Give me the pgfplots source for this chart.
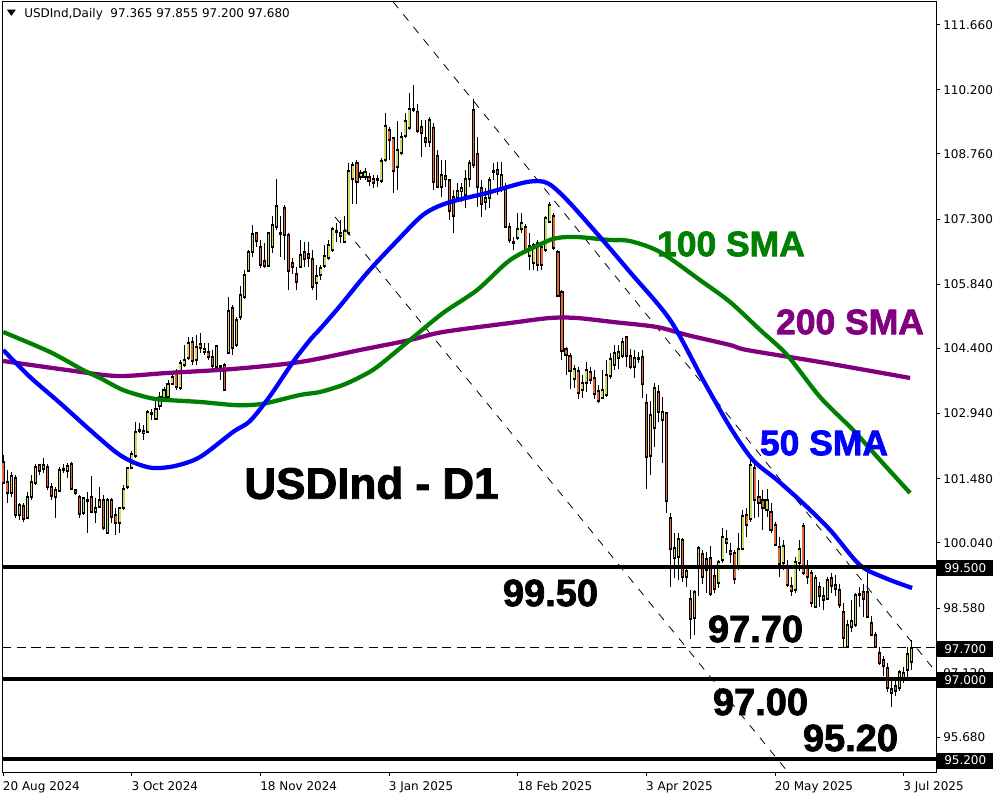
\documentclass[border=0pt]{standalone}
\usepackage{fontspec}
\setmainfont{DejaVu Sans}
\newfontfamily\heavy[FakeBold=2]{Liberation Sans}
\usepackage{graphicx}
\usepackage{pgfplots}
\usepackage{pgfplotstable}
\pgfplotsset{compat=1.18}
\definecolor{upc}{RGB}{200,220,100}
\definecolor{dnc}{RGB}{224,104,56}
\definecolor{smablue}{RGB}{0,0,255}
\definecolor{smagreen}{RGB}{0,128,0}
\definecolor{smapurple}{RGB}{128,0,128}

\pgfplotstableread{
i o h l c
0 101.86 102.01 101.35 101.38
1 101.41 101.68 100.93 101.17
2 101.15 101.64 101.08 101.53
3 101.49 101.56 100.59 100.67
4 100.67 100.93 100.55 100.89
5 100.87 100.93 100.52 100.57
6 100.61 101.19 100.59 101.08
7 101.06 101.56 101.00 101.41
8 101.39 101.82 101.34 101.75
9 101.79 101.82 101.56 101.66
10 101.69 101.94 101.60 101.79
11 101.74 101.82 101.23 101.30
12 101.29 101.38 101.00 101.09
13 101.08 101.30 100.59 101.23
14 101.21 101.75 101.19 101.68
15 101.69 101.82 101.60 101.68
16 101.66 101.84 101.49 101.77
17 101.82 101.86 101.23 101.26
18 101.23 101.26 101.11 101.17
19 101.06 101.11 100.59 100.70
20 100.72 101.08 100.67 101.04
21 101.00 101.19 100.26 100.97
22 101.08 101.53 100.70 100.73
23 100.74 101.04 100.48 100.82
24 100.85 101.30 100.82 101.00
25 101.00 101.11 100.33 100.37
26 100.26 101.04 100.26 101.00
27 101.00 101.04 100.48 100.63
28 100.67 100.82 100.22 100.49
29 100.49 100.85 100.26 100.82
30 100.82 101.34 100.78 101.26
31 101.30 101.75 101.26 101.71
32 101.71 102.09 101.71 102.03
33 101.99 102.76 101.94 102.53
34 102.58 102.72 102.50 102.56
35 102.55 102.68 102.35 102.50
36 102.53 103.02 102.50 102.97
37 102.96 103.04 102.80 102.93
38 102.81 103.24 102.80 103.04
39 103.10 103.42 103.02 103.32
40 103.30 103.54 103.24 103.47
41 103.32 103.69 103.28 103.60
42 103.60 103.88 103.58 103.77
43 103.84 103.95 103.47 103.54
44 103.51 104.14 103.47 104.08
45 104.03 104.48 103.99 104.14
46 104.18 104.66 104.14 104.52
47 104.54 104.66 104.03 104.12
48 104.14 104.70 104.03 104.44
49 104.49 104.74 104.29 104.40
50 104.33 104.52 104.25 104.40
51 104.33 104.52 104.14 104.22
52 104.22 104.37 103.92 104.01
53 103.99 104.48 103.95 104.46
54 104.01 104.03 103.69 103.98
55 104.03 104.07 103.47 103.48
56 104.31 105.56 104.29 105.24
57 105.30 105.37 104.25 104.40
58 104.48 105.11 104.44 105.04
59 105.10 105.79 105.04 105.60
60 105.56 106.16 105.52 106.05
61 106.14 106.61 106.12 106.57
62 106.57 107.17 106.46 106.97
63 106.98 107.02 106.68 106.82
64 106.68 106.83 106.20 106.27
65 106.35 106.76 106.20 106.26
66 106.25 107.02 106.22 106.98
67 106.68 107.36 106.53 107.17
68 107.12 108.19 107.06 107.59
69 107.00 107.36 106.46 106.97
70 107.54 107.62 106.38 106.94
71 106.94 106.98 105.71 106.14
72 106.31 106.42 106.08 106.23
73 106.08 106.23 105.71 105.90
74 106.23 106.83 106.20 106.50
75 106.57 106.79 106.23 106.41
76 106.52 106.79 106.23 106.44
77 106.41 106.61 105.71 105.79
78 105.86 106.27 105.49 106.03
79 106.05 106.27 105.94 106.21
80 106.25 106.72 106.20 106.47
81 106.42 106.83 106.38 106.72
82 106.61 107.13 106.57 107.08
83 107.03 107.21 106.79 107.01
84 107.00 107.28 106.76 106.93
85 106.78 107.36 106.76 107.03
86 106.98 108.55 106.94 108.38
87 108.19 108.59 107.65 108.51
88 108.57 108.63 107.65 108.14
89 108.25 108.40 108.17 108.33
90 108.25 108.45 108.18 108.35
91 108.25 108.33 108.05 108.16
92 108.21 108.30 108.00 108.10
93 108.19 108.28 108.03 108.17
94 108.16 108.66 108.12 108.60
95 108.63 109.67 108.59 109.39
96 109.30 109.37 108.63 109.07
97 109.11 109.15 107.88 108.38
98 108.46 109.49 107.95 108.85
99 108.79 109.26 108.74 109.13
100 109.16 109.67 109.11 109.50
101 109.34 110.12 109.30 109.78
102 109.78 110.31 109.71 109.75
103 109.71 109.88 109.22 109.28
104 109.36 109.52 108.70 109.22
105 109.13 109.52 108.92 109.02
106 109.02 109.60 108.92 109.52
107 109.34 109.45 107.95 108.14
108 108.72 108.86 107.99 108.01
109 108.01 108.63 107.79 108.29
110 108.27 108.63 108.03 108.19
111 108.18 108.21 107.28 107.48
112 107.80 107.95 106.98 107.36
113 107.77 108.10 107.73 107.92
114 107.94 108.10 107.69 107.99
115 107.84 108.40 107.54 108.20
116 108.21 108.63 108.03 108.55
117 109.75 109.99 108.44 108.51
118 108.75 109.15 107.58 108.03
119 107.99 108.18 107.34 107.65
120 107.69 107.99 107.50 107.77
121 107.77 108.25 107.54 108.18
122 108.38 108.55 108.18 108.36
123 108.40 108.59 107.84 108.31
124 108.00 108.59 107.90 108.30
125 108.03 108.10 107.09 107.13
126 107.13 107.21 106.76 106.83
127 106.79 106.91 106.61 106.77
128 106.87 107.43 106.83 107.07
129 107.09 107.43 106.98 107.21
130 107.12 107.19 106.53 106.57
131 106.47 106.98 106.16 106.70
132 106.31 106.76 106.16 106.72
133 106.77 106.83 106.14 106.27
134 106.68 106.79 106.16 106.27
135 106.61 107.36 106.57 107.33
136 107.24 107.69 107.21 107.62
137 107.36 107.43 106.61 106.65
138 106.57 106.61 105.56 105.58
139 105.67 105.71 104.14 104.35
140 104.38 104.44 103.80 104.25
141 104.23 104.29 103.48 103.90
142 103.71 104.03 103.51 103.95
143 103.90 103.99 103.26 103.41
144 103.47 103.81 103.30 103.63
145 103.63 104.10 103.43 103.92
146 103.87 103.99 103.60 103.69
147 103.73 103.92 103.26 103.38
148 103.45 103.58 103.18 103.23
149 103.30 103.92 103.26 103.47
150 103.36 104.14 103.32 103.81
151 103.78 104.29 103.71 104.16
152 104.03 104.48 103.92 104.31
153 104.18 104.48 103.95 104.31
154 104.23 104.63 104.18 104.54
155 104.65 104.66 103.99 104.23
156 104.23 104.38 103.95 103.98
157 103.99 104.37 103.73 104.18
158 104.19 104.33 104.07 104.16
159 104.20 104.37 103.30 103.60
160 103.17 103.38 101.26 101.96
161 101.99 103.22 101.56 102.92
162 102.61 103.62 102.20 103.51
163 103.43 103.58 102.76 102.98
164 102.80 103.32 101.84 102.98
165 102.95 102.98 100.70 100.97
166 100.59 100.70 99.06 99.90
167 99.70 100.26 99.25 99.92
168 99.73 100.27 99.21 100.14
169 100.11 100.15 99.17 99.28
170 99.28 99.52 99.05 99.42
171 98.78 98.98 97.88 98.33
172 98.35 98.98 97.97 98.95
173 99.49 99.96 98.84 99.92
174 99.79 99.88 99.13 99.28
175 99.67 99.84 98.91 99.43
176 99.71 99.96 98.84 98.89
177 99.30 99.47 98.91 99.00
178 99.15 99.66 99.02 99.62
179 99.66 100.37 99.58 100.17
180 100.12 100.33 99.81 100.03
181 99.87 100.03 99.58 99.79
182 99.82 99.88 99.13 99.22
183 99.49 100.26 99.43 99.90
184 99.90 100.78 99.88 100.64
185 100.67 100.82 100.18 100.44
186 100.57 101.97 100.52 101.79
187 101.71 101.80 100.60 101.00
188 101.08 101.45 100.63 100.94
189 101.00 101.23 100.33 100.82
190 100.78 101.24 100.63 101.00
191 100.74 100.93 100.26 100.33
192 100.44 100.52 99.96 99.99
193 99.94 100.18 99.28 99.57
194 99.58 100.10 99.43 99.96
195 99.51 99.66 99.06 99.10
196 99.07 99.28 98.84 98.97
197 98.99 99.73 98.91 99.62
198 99.59 100.10 99.40 99.90
199 100.42 100.49 99.32 99.37
200 99.49 99.66 99.13 99.27
201 99.36 99.43 98.61 98.70
202 98.60 99.32 98.57 99.26
203 99.06 99.17 98.61 98.84
204 98.84 99.06 98.54 98.75
205 98.78 99.28 98.75 99.22
206 99.25 99.36 98.91 99.07
207 99.10 99.32 98.84 99.00
208 98.99 99.13 98.57 98.65
209 98.50 98.69 97.68 97.90
210 97.71 98.31 97.68 98.20
211 98.16 98.76 98.05 98.28
212 98.20 98.91 98.16 98.87
213 98.90 99.06 98.61 98.88
214 98.93 99.13 98.39 98.78
215 98.93 99.43 98.35 98.39
216 98.25 98.40 97.95 97.98
217 97.98 98.05 97.70 97.71
218 97.57 97.70 97.30 97.34
219 97.42 97.50 97.05 97.27
220 97.23 97.35 96.70 96.78
221 96.76 97.00 96.37 96.67
222 96.83 96.95 96.60 96.71
223 96.78 97.20 96.72 97.15
224 96.97 97.25 96.90 97.13
225 97.19 97.70 96.97 97.56
226 97.37 97.86 97.20 97.68
}\candles

\begin{document}
\begin{tikzpicture}
\begin{axis}[
  at={(0,0)}, anchor=south west,
  scale only axis, width=700.5pt, height=577.5pt,
  xmin=-0.3, xmax=232.04, ymin=94.904, ymax=112.168,
  axis line style={black, line width=0.75pt},
  xtick={0,32,64,96,128,160,192,224}, xticklabels={},
  ytick={95.68,97.12,98.58,100.04,101.48,102.94,104.40,105.84,107.30,108.76,110.20,111.66},
  yticklabels={},
  ticklabel style={opacity=0},
  xtick pos=bottom, ytick pos=right,
  tick align=outside, major tick length=3pt,
  tick style={black, line width=0.75pt},
  clip mode=individual,
]
% diagonal channel lines
\addplot[black, line width=0.6pt, dash pattern=on 6pt off 6pt] coordinates {(97.04,112.168) (232.04,97.146)};
\addplot[black, line width=0.6pt, dash pattern=on 6pt off 6pt] coordinates {(82.54,107.348) (195.2,94.904)};
% wicks
\addplot[draw=none, mark=none, error bars/.cd, y dir=both, y explicit, error mark=none,
  error bar style={draw=black, solid, line width=0.75pt}]
  table[x=i, y=o, y error plus expr={\thisrow{h}-\thisrow{o}}, y error minus expr={\thisrow{o}-\thisrow{l}}] {\candles};
% body outlines
\addplot[draw=none, mark=none, error bars/.cd, y dir=both, y explicit, error mark=none,
  error bar style={draw=black, solid, line width=2.3pt}]
  table[x=i, y expr={(\thisrow{o}+\thisrow{c})/2}, y error expr={abs(\thisrow{o}-\thisrow{c})/2+0.0224}] {\candles};
% up bodies
\addplot[draw=none, mark=none, restrict expr to domain={\thisrow{c}-\thisrow{o}}{0:50},
  error bars/.cd, y dir=both, y explicit, error mark=none,
  error bar style={draw=upc, solid, line width=1.1pt}]
  table[x=i, y expr={(\thisrow{o}+\thisrow{c})/2}, y error expr={max(abs(\thisrow{o}-\thisrow{c})/2-0.0224,0)}] {\candles};
% down bodies
\addplot[draw=none, mark=none, restrict expr to domain={\thisrow{o}-\thisrow{c}}{0.000001:50},
  error bars/.cd, y dir=both, y explicit, error mark=none,
  error bar style={draw=dnc, solid, line width=1.1pt}]
  table[x=i, y expr={(\thisrow{o}+\thisrow{c})/2}, y error expr={max(abs(\thisrow{o}-\thisrow{c})/2-0.0224,0)}] {\candles};
% 200 SMA
\addplot[smapurple, line width=3.2pt, smooth] coordinates {
(0,104.119) (15.87,103.917) (28.31,103.783) (40.75,103.850) (57.16,103.940) (73.83,104.096)
(88.8,104.366) (101.2,104.590) (109.4,104.769) (126.1,104.971) (136.0,105.083) (142.7,105.083)
(151.7,104.993) (162.6,104.881) (170.1,104.702) (180.8,104.478) (185.0,104.366) (203.2,104.096) (225.6,103.738)};
% 100 SMA
\addplot[smagreen, line width=3.2pt, smooth] coordinates {
(0,104.769) (11.64,104.321) (19.85,103.917) (24.08,103.738) (29.8,103.469) (36.52,103.289)
(40.75,103.245) (49.0,103.200) (57.2,103.132) (61.4,103.132) (65.6,103.177) (73.83,103.357)
(78.8,103.424) (84.5,103.581) (88.8,103.760) (93.0,103.984) (101.2,104.590) (109.4,105.195)
(117.9,105.711) (126.1,106.383) (134.3,106.765) (137.8,106.877) (142.7,106.899) (150.9,106.832)
(155.9,106.809) (163.4,106.563) (173.3,105.935) (180.8,105.442) (188.3,104.814) (195.0,104.253)
(203.2,103.311) (211.4,102.572) (218.1,101.899) (225.6,101.159)};
% 50 SMA
\addplot[smablue, line width=3.2pt, smooth] coordinates {
(0,104.365) (6.67,103.760) (14.13,103.177) (21.59,102.572) (28.31,102.056) (32.79,101.832)
(37.26,101.720) (42.74,101.765) (48.96,101.966) (57.16,102.527) (61.39,102.773) (66.37,103.334)
(72.09,104.096) (76.32,104.590) (78.81,104.836) (83.78,105.352) (90.5,106.092) (97.46,106.765)
(104.4,107.392) (110.4,107.661) (120.3,107.886) (130.3,108.132) (135.3,108.110) (140.25,107.729)
(148.46,106.899) (155.9,106.114) (165.9,105.038) (174.1,103.693) (180.8,102.639) (186.5,101.899)
(192.5,101.451) (198.9,100.935) (205.7,100.330) (213.1,99.545) (219.4,99.253) (226.1,99.029)};
% horizontal levels
\addplot[black, line width=0.75pt, dash pattern=on 7pt off 4pt] coordinates {(-0.3,97.7) (232.04,97.7)};
\addplot[black, line width=3pt] coordinates {(-0.3,99.5) (232.04,99.5)};
\addplot[black, line width=3pt] coordinates {(-0.3,97.0) (232.04,97.0)};
\addplot[black, line width=3pt] coordinates {(-0.3,95.2) (232.04,95.2)};
\end{axis}

\begin{scope}[x=0.75pt, y=-0.75pt, shift={(-1.5pt,579pt)}]
  \tikzset{lab/.style={inner sep=0pt, font=\fontsize{9}{10}\selectfont}}
  % header
  \node[inner sep=0pt] at (11.5,13) {\scalebox{1}[0.7]{\fontsize{9}{9}\selectfont ▼}};
  \node[lab, anchor=base west] at (24,17.7) {USDInd,Daily\ \ 97.365 97.855 97.200 97.680};
  % right tick labels
  \foreach \yy/\tt in {24.66/111.660, 89.78/110.200, 154.0/108.760, 219.1/107.300, 284.2/105.840,
     348.5/104.400, 413.6/102.940, 478.7/101.480, 542.9/100.040, 608.0/98.580, 673.1/97.120, 737.4/95.680}
     {\node[lab, anchor=west] at (943,\yy) {\tt};}
  % date labels
  \foreach \xx/\tt in {3.2/20 Aug 2024, 131.8/3 Oct 2024, 260.5/18 Nov 2024, 389.1/3 Jan 2025,
     517.8/18 Feb 2025, 646.4/3 Apr 2025, 775.0/20 May 2025, 903.7/3 Jul 2025}
     {\node[lab, anchor=north west] at (\xx-0.5,781) {\tt};}
  % level boxes
  \foreach \yy/\tt in {568.5/99.500, 649/97.700, 680/97.000, 760.5/95.200}
     {\node[fill=black, text=white, anchor=west, inner sep=0pt, minimum width=42pt, minimum height=12pt,
        font=\fontsize{9}{10}\selectfont] at (937,\yy) {\tt};}
  % big labels
  \node[font=\heavy\bfseries\fontsize{33}{36}\selectfont, text=black] at (371.5,483) {USDInd - D1};
  \node[font=\heavy\bfseries\fontsize{26.6}{30}\selectfont, text=smagreen] at (731,244) {100 SMA};
  \node[font=\heavy\bfseries\fontsize{26.6}{30}\selectfont, text=smapurple] at (850,322) {200 SMA};
  \node[font=\heavy\bfseries\fontsize{26.6}{30}\selectfont, text=smablue] at (824,443) {50 SMA};
  \node[font=\heavy\bfseries\fontsize{28.5}{32}\selectfont, text=black] at (550.5,593) {99.50};
  \node[font=\heavy\bfseries\fontsize{28.5}{32}\selectfont, text=black] at (755.5,629) {97.70};
  \node[font=\heavy\bfseries\fontsize{28.5}{32}\selectfont, text=black] at (760.5,702) {97.00};
  \node[font=\heavy\bfseries\fontsize{28.5}{32}\selectfont, text=black] at (850.5,738) {95.20};
\end{scope}
\pgfresetboundingbox
\path[use as bounding box] (-1.5pt,-21pt) rectangle (748.5pt,579pt);
\end{tikzpicture}
\end{document}
